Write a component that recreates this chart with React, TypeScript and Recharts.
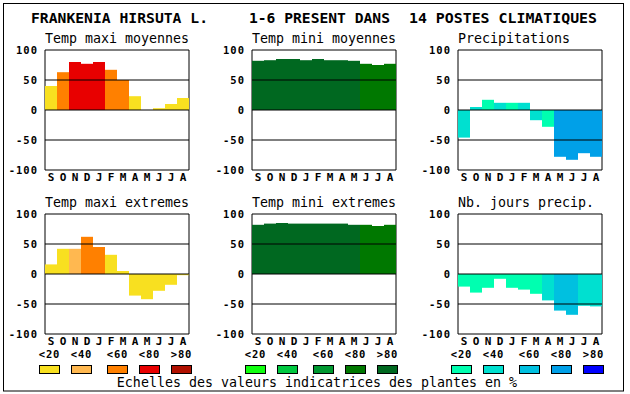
import { BarChart, Bar, Cell, XAxis, YAxis, ReferenceLine, ReferenceArea } from 'recharts';

const months = ['S', 'O', 'N', 'D', 'J', 'F', 'M', 'A', 'M', 'J', 'J', 'A'];
const yTicks = [-100, -50, 0, 50, 100];

// valeurs
const maxiMoyennes = [40, 63, 80, 77, 80, 67, 50, 23, 0, 3, 10, 20];
const miniMoyennes = [82, 83, 85, 85, 83, 85, 83, 83, 82, 77, 75, 77];
const precipitations = [-46, 5, 17, 12, 12, 12, -17, -28, -78, -83, -72, -78];
const maxiExtremes = [16, 42, 42, 62, 45, 32, 5, -36, -42, -28, -18, -2];
const miniExtremes = [82, 84, 85, 84, 84, 84, 84, 84, 82, 82, 80, 82];
const joursPrecip = [-21, -31, -23, -8, -23, -26, -33, -44, -61, -68, -53, -54];

// classe de valeur indicatrice (0: <20 ... 4: >80)
const maxiMoyClass = [0, 2, 3, 3, 3, 2, 2, 0, 0, 0, 0, 0];
const miniMoyClass = [4, 4, 4, 4, 4, 4, 4, 4, 4, 3, 3, 3];
const precipClass = [1, 1, 0, 1, 0, 1, 1, 0, 3, 3, 3, 3];
const maxiExtClass = [0, 0, 1, 2, 2, 0, 0, 0, 0, 0, 0, 0];
const miniExtClass = [4, 4, 4, 4, 4, 4, 4, 4, 4, 3, 3, 3];
const joursClass = [0, 0, 0, 0, 0, 0, 0, 1, 2, 2, 1, 1];

const scaleLabels = ['<20', '<40', '<60', '<80', '>80'];
const warm = ['#f8e020', '#ffb850', '#ff8000', '#e80000', '#b01000'];
const green = ['#10ff10', '#00c840', '#009830', '#007800', '#006820'];
const cool = ['#00ffb0', '#00e0d0', '#00c0e0', '#00a0e8', '#0000ff'];

const mono = '"DejaVu Sans Mono", monospace';

function Panel({ left, top, values, classes, palette }: {
  left: number; top: number; values: number[]; classes: number[]; palette: string[];
}) {
  const data = months.map((m, i) => ({ m, v: values[i] }));
  return (
    <div style={{ position: 'absolute', left, top }}>
      <BarChart width={190} height={150} data={data} barCategoryGap={0}
        margin={{ top: 10, right: 4, bottom: 0, left: 0 }}>
        <XAxis dataKey="m" interval={0} tickLine={false} axisLine={false} tickSize={0} tickMargin={3} height={20}
          tick={{ fontSize: 11, fontWeight: 'bold', fill: '#000', fontFamily: mono }} />
        <YAxis domain={[-100, 100]} ticks={yTicks} width={42} tickLine={false} axisLine={false}
          tickSize={0} tickMargin={7} interval={0}
          tick={{ fontSize: 10.5, fontWeight: 'bold', fill: '#000', fontFamily: mono, letterSpacing: 1 }} />
        <Bar dataKey="v" isAnimationActive={false}>
          {data.map((d, i) => <Cell key={i} fill={palette[classes[i]]} />)}
        </Bar>
        <ReferenceLine y={50} stroke="#000" />
        <ReferenceLine y={0} stroke="#000" />
        <ReferenceLine y={-50} stroke="#000" />
        <ReferenceArea y1={-100} y2={100} fill="none" stroke="#000" fillOpacity={0} />
      </BarChart>
    </div>
  );
}

const titles = [
  { t: 'Temp maxi moyennes', x: 45, y: 42.5 },
  { t: 'Temp mini moyennes', x: 252, y: 42.5 },
  { t: 'Precipitations', x: 458, y: 42.5 },
  { t: 'Temp maxi extremes', x: 45, y: 206.5 },
  { t: 'Temp mini extremes', x: 252, y: 206.5 },
  { t: 'Nb. jours precip.', x: 458, y: 206.5 },
];

const boxOffsets = [0, 32, 68, 100, 132];

export default function App() {
  const groups = [
    { x: 39.5, pal: warm },
    { x: 245.5, pal: green },
    { x: 451.5, pal: cool },
  ];
  return (
    <div style={{ position: 'absolute', left: 0, top: 0, width: 630, height: 394, background: '#fff' }}>
      <svg width={630} height={394} style={{ position: 'absolute', left: 0, top: 0 }}>
        <rect x={3.5} y={3.5} width={620} height={387.5} fill="none" stroke="#000" />
        <g fontFamily={mono} fontWeight="bold" fontSize={13.5} fill="#000">
          <text x={31} y={23} textLength={177} lengthAdjust="spacingAndGlyphs">FRANKENIA HIRSUTA L.</text>
          <text x={249} y={23} textLength={141} lengthAdjust="spacingAndGlyphs">1-6 PRESENT DANS</text>
          <text x={409} y={23} textLength={188} lengthAdjust="spacingAndGlyphs">14 POSTES CLIMATIQUES</text>
        </g>
        <g fontFamily={mono} fontSize={13.3} fill="#000">
          {titles.map((t) => <text key={t.t} x={t.x} y={t.y}>{t.t}</text>)}
        </g>
        {groups.map((g) => scaleLabels.map((l, i) => (
          <g key={g.x + l}>
            <text x={g.x + boxOffsets[i] + 10} y={357.5} textAnchor="middle" fontFamily={mono}
              fontWeight="bold" fontSize={10.5} letterSpacing={0.8} fill="#000">{l}</text>
            <rect x={g.x + boxOffsets[i]} y={365.5} width={20} height={8} fill={g.pal[i]} stroke="#000" />
          </g>
        )))}
        <text x={317} y={387} textAnchor="middle" fontFamily={mono} fontSize={13.3} fill="#000">
          Echelles des valeurs indicatrices des plantes en %
        </text>
      </svg>
      <Panel left={3} top={40} values={maxiMoyennes} classes={maxiMoyClass} palette={warm} />
      <Panel left={210} top={40} values={miniMoyennes} classes={miniMoyClass} palette={green} />
      <Panel left={416} top={40} values={precipitations} classes={precipClass} palette={cool} />
      <Panel left={3} top={204} values={maxiExtremes} classes={maxiExtClass} palette={warm} />
      <Panel left={210} top={204} values={miniExtremes} classes={miniExtClass} palette={green} />
      <Panel left={416} top={204} values={joursPrecip} classes={joursClass} palette={cool} />
    </div>
  );
}
